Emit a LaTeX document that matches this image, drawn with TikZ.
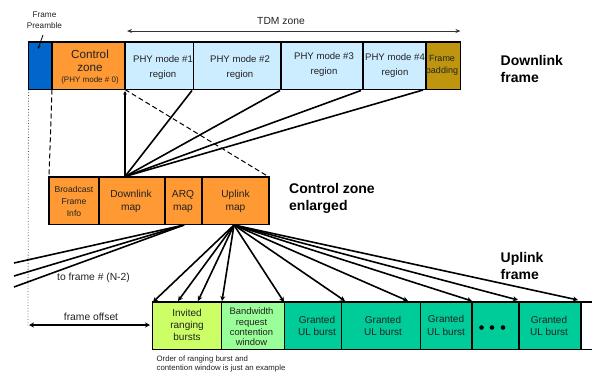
\documentclass[tikz,border=0pt]{standalone}
\usepackage{fontspec}
\setmainfont{Liberation Sans}
\usetikzlibrary{arrows.meta}
\definecolor{cblue}{HTML}{0066CC}
\definecolor{corange}{HTML}{FF9933}
\definecolor{clight}{HTML}{CCECFF}
\definecolor{cgold}{HTML}{BF9510}
\definecolor{clime}{HTML}{CCFF66}
\definecolor{cmint}{HTML}{99FF99}
\definecolor{cteal}{HTML}{00CC99}
\definecolor{ctext}{HTML}{222222}
\tikzset{
  x=1pt,y=-1pt,
  rowcell/.style={draw=black,line width=1.6pt,inner sep=0pt,outer sep=0pt,minimum width=#1,minimum height=47.5pt,anchor=north west},
  lab/.style={inner sep=0pt,align=center,text=ctext},
  big/.style={lab,font=\fontsize{9.6}{14.5}\selectfont},
  mapt/.style={lab,font=\fontsize{10.2}{13.3}\selectfont},
  burst/.style={lab,font=\fontsize{10}{12.3}\selectfont},
  head/.style={inner sep=0pt,align=left,anchor=west,font=\fontsize{14}{17}\selectfont\bfseries,text=black},
  fan/.style={line width=1.6pt,draw=black},
  fanar/.style={fan,-{Stealth[length=5pt,width=5pt]}},
  zoomline/.style={line width=1pt,dash pattern=on 5pt off 3pt},
}
\begin{document}
\begin{tikzpicture}
\useasboundingbox (0,0) rectangle (592,376);
% top row
\node[rowcell=23.5pt,fill=cblue] (pre) at (28.5,42) {};
\node[rowcell=73pt,fill=corange] (ctl) at (52,42) {};
\node[rowcell=68.5pt,fill=clight] (p1) at (125,42) {};
\node[rowcell=87.5pt,fill=clight] (p2) at (193.5,42) {};
\node[rowcell=82pt,fill=clight] (p3) at (281,42) {};
\node[rowcell=63pt,fill=clight] (p4) at (363,42) {};
\node[rowcell=34.5pt,fill=cgold] (pad) at (426,42) {};
\node[lab,font=\fontsize{11.7}{13}\selectfont] (ctlt) at (90,60.5) {Control\\zone};
\node[lab,font=\fontsize{8}{9}\selectfont] (ctls) at (90,80) {(PHY mode \# 0)};
\node[big] (p1t) at (163,67.5) {PHY mode \#1\\region};
\node[big] (p2t) at (240,67.5) {PHY mode \#2\\region};
\node[big] (p3t) at (324,64.5) {PHY mode \#3\\region};
\node[big] (p4t) at (395,65.5) {PHY mode \#4\\region};
\node[lab,font=\fontsize{9}{12.5}\selectfont] (padt) at (442,65.5) {Frame\\padding};
% mid row
\node[rowcell=50pt,fill=corange] (bf) at (49,177) {};
\node[rowcell=66pt,fill=corange] (dl) at (99,177) {};
\node[rowcell=37pt,fill=corange] (arq) at (165,177) {};
\node[rowcell=67pt,fill=corange] (ul) at (202,177) {};
\node[lab,font=\fontsize{8.6}{12.3}\selectfont] (bft) at (74,201.5) {Broadcast\\Frame\\Info};
\node[mapt] (dlt) at (131,201.7) {Downlink\\map};
\node[mapt] (arqt) at (183,201.7) {ARQ\\map};
\node[mapt] (ult) at (235.5,201.7) {Uplink\\map};
% bottom row
\node[rowcell=69pt,fill=clime] (inv) at (152.5,302) {};
\node[rowcell=63pt,fill=cmint] (bw) at (221.5,302) {};
\node[rowcell=57pt,fill=cteal] (g1) at (284.5,302) {};
\node[rowcell=79pt,fill=cteal] (g2) at (341.5,302) {};
\node[rowcell=51.5pt,fill=cteal] (g3) at (420.5,302) {};
\node[rowcell=47pt,fill=cteal] (dots) at (472,302) {};
\node[rowcell=62pt,fill=cteal] (g4) at (519,302) {};
\node[burst] (invt) at (187,325) {Invited\\ranging\\bursts};
\node[lab,font=\fontsize{9.4}{10.3}\selectfont] (bwt) at (251.5,327) {Bandwidth\\request\\contention\\window};
\node[burst] (g1t) at (317,326) {Granted\\UL burst};
\node[burst] (g2t) at (383,326) {Granted\\UL burst};
\node[burst] (g3t) at (446,325.5) {Granted\\UL burst};
\node[burst] (g4t) at (549,326) {Granted\\UL burst};
\foreach \xx in {481.5,492,503} \fill (\xx,327.5) circle (2.3pt);
\draw[line width=1.6pt] (581,302) -- (592,302) (581,349.5) -- (592,349.5);
% connection points
\coordinate (hub) at (125,176.5);
\coordinate (ulhub) at (234,225);
\coordinate (arqhub) at (184,225);
% downlink fan
\draw[fan,-{Stealth[length=3.5pt,width=3.5pt]}] (hub) -- (125,91);
\draw[fan] (hub) -- (192,90.5);
\draw[fan] (hub) -- (280,90.5);
\draw[fan] (hub) -- (361,90.5);
\draw[fan] (hub) -- (423,90);
% dashed zoom lines
\draw[zoomline] (ctl.south west) -- (bf.north west);
\draw[zoomline] (ctl.south east) -- (ul.north east);
\draw[line width=0.8pt,dotted,draw=black!70] (pre.south west) -- (28,325);
% ARQ fan
\coordinate (f1) at (14,263);
\coordinate (f2) at (14,276);
\coordinate (f3) at (14,287);
\draw[fan] (arqhub) -- (f1);
\draw[fan] (arqhub) -- (f2);
\draw[fan] (arqhub) -- (f3);
% uplink fan
\foreach \xx/\yy in {153/302,178/301,198/301,222/301,284/302,345/301,408/301,472/301,518/300,578/300}
  \draw[fanar] (ulhub) -- (\xx,\yy);
% arrows and labels
\coordinate (tdml) at (127,31);
\coordinate (tdmr) at (460.5,31);
\draw[line width=0.9pt,draw=black!80,{Stealth[length=5pt,width=4pt]}-{Stealth[length=5pt,width=4pt]}] (tdml) -- (tdmr);
\node[lab,font=\fontsize{10.3}{12}\selectfont] (tdm) at (281,21.5) {TDM zone};
\node[lab,font=\fontsize{8.2}{11}\selectfont] (fp) at (44.5,20.5) {Frame\\Preamble};
\draw[line width=0.8pt,-{Stealth[length=3.5pt,width=3pt]}] (43,35) -- (38,49);
\coordinate (oflt) at (29,325);
\draw[line width=1.3pt,{Stealth[length=5pt,width=5pt]}-{Stealth[length=5pt,width=5pt]}] (oflt) -- (150,325);
\node[lab,font=\fontsize{10.3}{12}\selectfont] (fo) at (91,316.5) {frame offset};
\node[lab,font=\fontsize{10.3}{12}\selectfont] (fn) at (93.5,277.5) {to frame \# (N-2)};
\node[lab,align=left,font=\fontsize{7.8}{9}\selectfont] (note) at (221,363.5) {Order of ranging burst and\\contention window is just an example};
\node[head] (h1) at (500.5,68.5) {Downlink\\frame};
\node[head] (h2) at (289,198) {Control zone\\enlarged};
\node[head] (h3) at (500.5,265.5) {Uplink\\frame};
\end{tikzpicture}
\end{document}
